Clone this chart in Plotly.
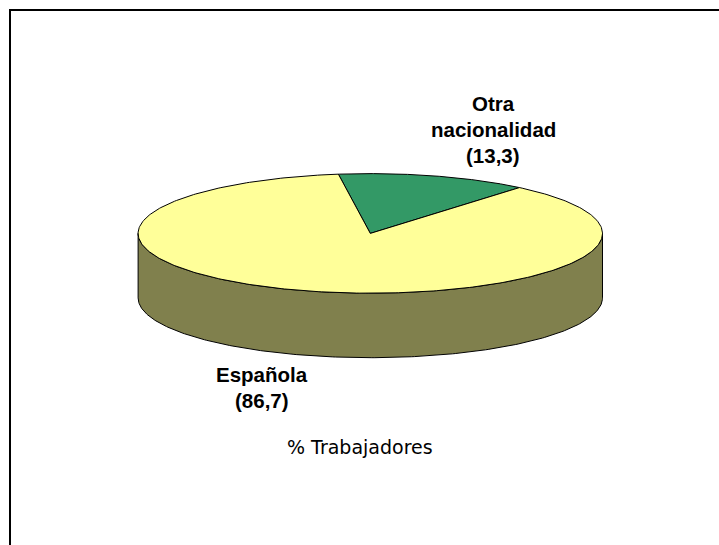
import numpy as np
import plotly.graph_objects as go

# Data
categories = ["Otra nacionalidad", "Española"]
values = [13.3, 86.7]
label_lines = [["Otra", "nacionalidad", "(13,3)"], ["Española", "(86,7)"]]
caption = "% Trabajadores"

# Style / geometry
colors = ["#339966", "#FFFF99"]
side_color = "#80804D"
cx, cy, rx, ry, depth = 370.3, 233.4, 232.2, 59.8, 64.5
start_angle = -7.9
W, H = 719, 545


def ex(t):
    return cx + rx * np.sin(np.radians(t))


def ey(t):
    return cy - ry * np.cos(np.radians(t))


fig = go.Figure()
total = sum(values)
spans = []
a = start_angle
for v in values:
    spans.append((a, a + v / total * 360))
    a += v / total * 360

# walls: the visible front half of each slice
for (a0, a1) in spans:
    lo, hi = max(a0, 90), min(a1, 270)
    if hi <= lo:
        continue
    t = np.linspace(lo, hi, 240)
    xs = np.concatenate([ex(t), ex(t[::-1]), ex(t[:1])])
    ys = np.concatenate([ey(t), ey(t[::-1]) + depth, ey(t[:1])])
    fig.add_trace(go.Scatter(x=xs, y=ys, mode="lines", fill="toself", fillcolor=side_color,
                             line=dict(color="#000000", width=1), hoverinfo="skip", showlegend=False))

# top faces
for (a0, a1), col, name, v in zip(spans, colors, categories, values):
    t = np.linspace(a0, a1, 360)
    xs = np.concatenate([[cx], ex(t), [cx]])
    ys = np.concatenate([[cy], ey(t), [cy]])
    fig.add_trace(go.Scatter(x=xs, y=ys, mode="lines", fill="toself", fillcolor=col,
                             line=dict(color="#000000", width=1), name=name,
                             hoverinfo="text", text=f"{name}: {v}", showlegend=False))

annotations = []
label_pos = [(493, [103.5, 129.5, 155.5]), (262, [374.5, 400.5])]
for lines, (x, ys) in zip(label_lines, label_pos):
    for line, y in zip(lines, ys):
        annotations.append(dict(x=x, y=y, text=f"<b>{line}</b>", showarrow=False, xanchor="center",
                                yanchor="middle", font=dict(family="Liberation Sans", size=20.5, color="#000000")))
annotations.append(dict(x=359.5, y=446.5, text=caption, showarrow=False, xanchor="center", yanchor="middle",
                        font=dict(family="DejaVu Sans", size=19, color="#000000")))

fig.update_layout(
    width=W, height=H, margin=dict(l=0, r=0, t=0, b=0, pad=0),
    paper_bgcolor="#FFFFFF", plot_bgcolor="#FFFFFF", showlegend=False,
    xaxis=dict(range=[0, W], visible=False, fixedrange=True),
    yaxis=dict(range=[H, 0], visible=False, fixedrange=True),
    annotations=annotations,
    shapes=[dict(type="path", path=f"M 10 {H} L 10 10 L {W} 10", line=dict(color="#000000", width=2), layer="above")],
)
fig.write_html("out.html", post_script="document.body.style.margin='0';document.body.style.overflow='hidden';",
               config=dict(displayModeBar=False))
